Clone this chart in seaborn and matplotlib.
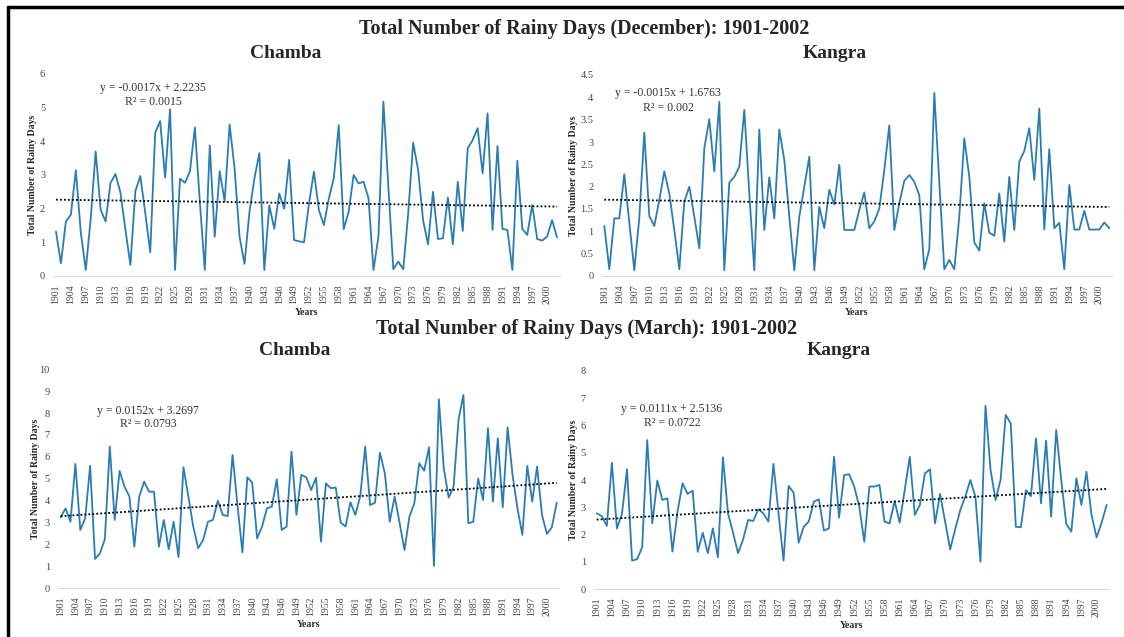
import numpy as np
import pandas as pd
import matplotlib
matplotlib.use("Agg")
import matplotlib.pyplot as plt
import seaborn as sns

# Years 1901-2002
years = list(range(1901, 2003))

# December series
dec_chamba = [1.32, 0.38, 1.62, 1.82, 3.14, 1.3, 0.18, 1.7, 3.7, 1.97,
              1.62, 2.77, 3.03, 2.47, 1.37, 0.33, 2.52, 2.97, 1.87, 0.7,
              4.26, 4.6, 2.92, 4.95, 0.18, 2.89, 2.77, 3.11, 4.41, 2.2,
              0.18, 3.88, 1.17, 3.11, 2.22, 4.5, 3.2, 1.17, 0.36, 1.9,
              2.9, 3.65, 0.18, 2.1, 1.4, 2.45, 2.0, 3.45, 1.07, 1.03,
              1.0, 2.15, 3.1, 1.96, 1.51, 2.3, 2.9, 4.48, 1.39, 1.91,
              3.0, 2.75, 2.8, 2.31, 0.18, 1.17, 5.18, 2.65, 0.2, 0.43,
              0.2, 1.86, 3.96, 3.15, 1.66, 0.94, 2.5, 1.1, 1.12, 2.33,
              0.94, 2.8, 1.34, 3.79, 4.04, 4.39, 3.05, 4.83, 1.37, 3.86,
              1.4, 1.37, 0.18, 3.42, 1.4, 1.22, 2.11, 1.1, 1.05, 1.17,
              1.66, 1.15]

dec_kangra = [1.12, 0.15, 1.29, 1.29, 2.28, 1.2, 0.13, 1.3, 3.21, 1.34,
              1.12, 1.7, 2.34, 1.85, 1.03, 0.15, 1.66, 2.0, 1.33, 0.62,
              2.86, 3.51, 2.34, 3.9, 0.13, 2.09, 2.22, 2.45, 3.72, 1.85,
              0.13, 3.28, 1.03, 2.21, 1.29, 3.28, 2.6, 1.33, 0.13, 1.33,
              2.0, 2.67, 0.13, 1.55, 1.07, 1.93, 1.6, 2.49, 1.03, 1.03,
              1.03, 1.48, 1.87, 1.07, 1.22, 1.51, 2.37, 3.37, 1.03, 1.63,
              2.13, 2.26, 2.11, 1.81, 0.15, 0.6, 4.1, 2.1, 0.15, 0.36,
              0.15, 1.33, 3.08, 2.22, 0.75, 0.57, 1.63, 0.97, 0.9, 1.85,
              0.77, 2.22, 1.03, 2.56, 2.8, 3.31, 2.15, 3.75, 1.04, 2.84,
              1.07, 1.19, 0.15, 2.04, 1.04, 1.04, 1.46, 1.04, 1.04, 1.04,
              1.2, 1.07]

# March series
mar_chamba = [3.24, 3.65, 3.04, 5.68, 2.66, 3.2, 5.59, 1.34, 1.6, 2.24,
              6.47, 3.12, 5.36, 4.64, 4.19, 1.9, 4.19, 4.87, 4.41, 4.41,
              1.9, 3.12, 1.78, 3.04, 1.42, 5.53, 4.19, 2.82, 1.83, 2.21,
              3.04, 3.12, 4.0, 3.35, 3.3, 6.09, 3.8, 1.64, 5.07, 4.82,
              2.28, 2.82, 3.65, 3.73, 4.98, 2.66, 2.82, 6.24, 3.35, 5.18,
              5.07, 4.49, 5.05, 2.13, 4.79, 4.57, 4.6, 3.0, 2.82, 3.93,
              3.35, 4.22, 6.47, 3.8, 3.91, 6.19, 5.25, 3.04, 4.19, 3.0,
              1.75, 3.27, 3.88, 5.71, 5.37, 6.44, 1.02, 8.63, 5.48, 4.14,
              4.64, 7.69, 8.83, 2.97, 3.04, 5.02, 4.03, 7.31, 3.96, 6.85,
              3.7, 7.35, 5.18, 3.65, 2.44, 5.59, 3.96, 5.56, 3.35, 2.48,
              2.79, 3.91]

mar_kangra = [2.78, 2.68, 2.32, 4.63, 2.23, 2.76, 4.39, 1.05, 1.1, 1.54,
              5.46, 2.41, 3.98, 3.27, 3.33, 1.38, 2.84, 3.88, 3.49, 3.61,
              1.37, 2.07, 1.32, 2.23, 1.17, 4.83, 2.78, 2.07, 1.32, 1.83,
              2.54, 2.5, 2.93, 2.78, 2.48, 4.59, 2.8, 1.05, 3.78, 3.54,
              1.71, 2.29, 2.48, 3.21, 3.29, 2.15, 2.23, 4.85, 2.62, 4.18,
              4.21, 3.76, 3.02, 1.74, 3.76, 3.76, 3.82, 2.48, 2.41, 3.23,
              2.44, 3.63, 4.85, 2.72, 3.09, 4.24, 4.39, 2.41, 3.49, 2.48,
              1.46, 2.2, 2.9, 3.39, 4.0, 3.39, 1.01, 6.72, 4.37, 3.27,
              4.02, 6.38, 6.07, 2.29, 2.27, 3.63, 3.41, 5.52, 3.15, 5.44,
              2.66, 5.83, 4.0, 2.39, 2.11, 4.06, 3.09, 4.3, 2.72, 1.9,
              2.44, 3.09]

# Trendline equations as printed on the chart
eq_text = ["y = -0.0017x + 2.2235", "y = -0.0015x + 1.6763",
           "y = 0.0152x + 3.2697", "y = 0.0111x + 2.5136"]
r2_text = ["R\u00b2 = 0.0015", "R\u00b2 = 0.002", "R\u00b2 = 0.0793", "R\u00b2 = 0.0722"]
panel_names = ["Chamba", "Kangra", "Chamba", "Kangra"]
y_max = [6, 4.5, 10, 8]
y_step = [1, 0.5, 1, 1]

sns.set_theme(style="white")
plt.rcParams["font.family"] = ["Liberation Serif", "DejaVu Serif"]

W, H = 1124, 637
fig = plt.figure(figsize=(W / 100, H / 100), dpi=100)
line_color = "#2a7db3"

# pixel boxes: left, right, top, bottom
boxes = [(53.5, 559.5, 74, 276), (601.8, 1111.8, 75, 276),
         (58.2, 559.2, 369.3, 588.3), (594.2, 1109.2, 370.7, 589.3)]
eq_pos = [(153, 88, 102), (668, 93, 108), (148, 411, 424), (672, 409, 423)]
name_pos = [(286, 54), (835, 54), (295, 350), (839, 351)]
ylabel_x = [37, 578, 40, 578]
series = [dec_chamba, dec_kangra, mar_chamba, mar_kangra]

for i, vals in enumerate(series):
    l, r, t, b = boxes[i]
    ax = fig.add_axes([l / W, 1 - b / H, (r - l) / W, (b - t) / H])
    df = pd.DataFrame({"Year": years, "Days": vals})
    sns.lineplot(data=df, x="Year", y="Days", ax=ax, color=line_color, lw=1.3)
    # linear trendline fitted on the data
    sns.regplot(data=df, x="Year", y="Days", ax=ax, scatter=False, ci=None,
                line_kws=dict(color="black", ls=(0, (1, 1.2)), lw=1.3))
    ax.set_xlim(1900.5, 2002.5)
    ax.set_ylim(0, y_max[i])
    yt = np.arange(0, y_max[i] + 0.01, y_step[i])
    ax.set_yticks(yt)
    ax.set_yticklabels([f"{v:g}" for v in yt], fontsize=7.5, color="#444444")
    xt = list(range(1901, 2001, 3))
    ax.set_xticks(xt)
    ax.set_xticklabels([str(v) for v in xt], rotation=90, fontsize=7, color="#444444")
    ax.tick_params(axis="both", length=0, pad=6)
    for s in ["top", "right", "left"]:
        ax.spines[s].set_visible(False)
    ax.spines["bottom"].set_color("#d9d9d9")
    ax.spines["bottom"].set_linewidth(0.8)
    ax.set_xlabel("Years", fontsize=7, fontweight="bold", labelpad=3)
    ax.set_ylabel("Total Number of Rainy Days", fontsize=7, fontweight="bold")
    ax.yaxis.set_label_coords((ylabel_x[i] - l) / (r - l), 0.5)
    ax.grid(False)
    ax.set_facecolor("white")

    ex, ey1, ey2 = eq_pos[i]
    fig.text(ex / W, 1 - ey1 / H, eq_text[i], ha="center", va="center", fontsize=8.5, color="#333333")
    fig.text(ex / W, 1 - ey2 / H, r2_text[i], ha="center", va="center", fontsize=8.5, color="#333333")

    nx, ny = name_pos[i]
    fig.text(nx / W, 1 - ny / H, panel_names[i], ha="center", va="center",
             fontsize=14, fontweight="bold")

fig.text(584 / W, 1 - 29 / H, "Total Number of Rainy Days (December): 1901-2002",
         ha="center", va="center", fontsize=14.5, fontweight="bold")
fig.text(587 / W, 1 - 329 / H, "Total Number of Rainy Days (March): 1901-2002",
         ha="center", va="center", fontsize=14.5, fontweight="bold")

# outer frame (top and left edges as in the reference)
fig.add_artist(plt.Line2D([8 / W, 1], [1 - 7 / H, 1 - 7 / H], color="black", lw=2.5))
fig.add_artist(plt.Line2D([8 / W, 8 / W], [0, 1 - 7 / H], color="black", lw=2.5))

plt.savefig("out.png", dpi=100)
